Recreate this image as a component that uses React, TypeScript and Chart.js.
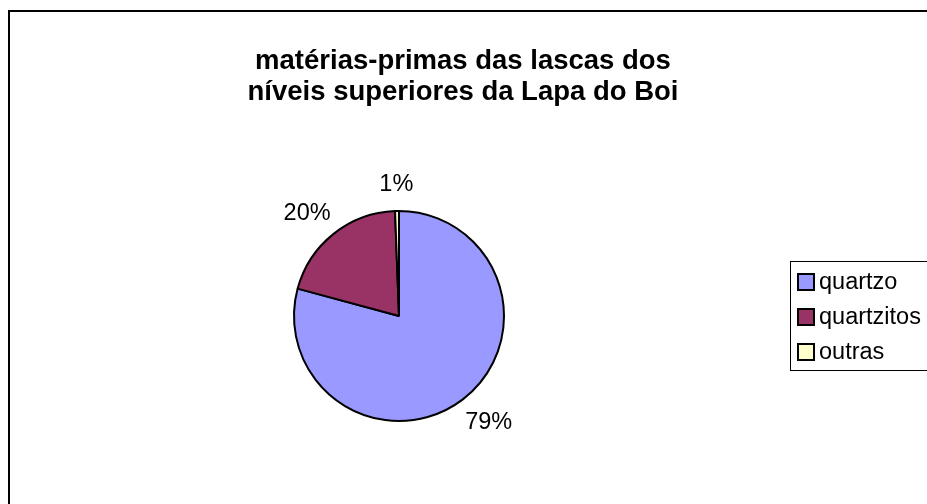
import React, { useEffect, useRef } from "react";
import { Chart, registerables } from "chart.js";

Chart.register(...registerables);

// Raw materials of the flakes (percent of total)
const categories = ["quartzo", "quartzitos", "outras"];
const shares = [79.2, 20.2, 0.6];
const sliceColors = ["#9999FF", "#993366", "#FFFFCC"];
const titleLines = ["matérias-primas das lascas dos", "níveis superiores da Lapa do Boi"];

const FONT = "'Liberation Sans', Arial, sans-serif";

// Outer frame, title and boxed legend drawn onto the canvas
const decorPlugin = {
  id: "decor",
  beforeDraw(chart: any) {
    const ctx = chart.ctx;
    ctx.save();
    ctx.fillStyle = "#ffffff";
    ctx.fillRect(0, 0, chart.width, chart.height);
    ctx.strokeStyle = "#000000";
    ctx.lineWidth = 2;
    ctx.strokeRect(9, 11, chart.width + 40, chart.height + 40);
    ctx.restore();
  },
  afterDraw(chart: any) {
    const ctx = chart.ctx;
    ctx.save();
    // title
    ctx.fillStyle = "#000000";
    ctx.font = `bold 27.5px ${FONT}`;
    ctx.textAlign = "center";
    ctx.textBaseline = "alphabetic";
    titleLines.forEach((line, i) => ctx.fillText(line, 463, 69 + i * 31));

    // legend
    const lx = 790;
    const ly = 261;
    ctx.strokeStyle = "#000000";
    ctx.lineWidth = 1;
    ctx.strokeRect(lx + 0.5, ly + 0.5, 200, 109);
    ctx.font = `23.5px ${FONT}`;
    ctx.textAlign = "left";
    ctx.textBaseline = "middle";
    const labels: string[] = chart.data.labels;
    const colors: string[] = chart.data.datasets[0].backgroundColor;
    labels.forEach((lab, i) => {
      const cy = 282 + i * 35;
      ctx.fillStyle = colors[i];
      ctx.fillRect(798, cy - 8, 16, 16);
      ctx.lineWidth = 2;
      ctx.strokeStyle = "#000000";
      ctx.strokeRect(798, cy - 8, 16, 16);
      ctx.fillStyle = "#000000";
      ctx.fillText(lab, 819, cy + 1);
    });
    ctx.restore();
  },
};

// Percent labels placed just outside each slice
const pctLabelPlugin = {
  id: "pctLabels",
  afterDatasetsDraw(chart: any) {
    const ctx = chart.ctx;
    const meta = chart.getDatasetMeta(0);
    const data: number[] = chart.data.datasets[0].data;
    const total = data.reduce((a, b) => a + b, 0);
    ctx.save();
    ctx.font = `23.5px ${FONT}`;
    ctx.fillStyle = "#000000";
    ctx.textAlign = "center";
    ctx.textBaseline = "middle";
    meta.data.forEach((arc: any, i: number) => {
      const { x, y, startAngle, endAngle, outerRadius } = arc.getProps(
        ["x", "y", "startAngle", "endAngle", "outerRadius"],
        true
      );
      const mid = (startAngle + endAngle) / 2;
      const dx = Math.cos(mid);
      const dy = Math.sin(mid);
      const text = `${Math.round((data[i] / total) * 100)}%`;
      const w = ctx.measureText(text).width;
      const h = 17;
      const r = outerRadius + 19;
      const tx = x + dx * r + (dx * w) / 2;
      const ty = y + dy * r + (dy * h) / 2 + 1;
      ctx.fillText(text, tx, ty);
    });
    ctx.restore();
  },
};

export default function App() {
  const canvasRef = useRef<HTMLCanvasElement | null>(null);

  useEffect(() => {
    const canvas = canvasRef.current;
    if (!canvas) return;
    const chart = new Chart(canvas, {
      type: "pie",
      data: {
        labels: categories,
        datasets: [
          {
            data: shares,
            backgroundColor: sliceColors,
            borderColor: "#000000",
            borderWidth: 2,
          },
        ],
      },
      options: {
        responsive: false,
        animation: false,
        devicePixelRatio: 1,
        radius: 105,
        layout: { padding: { left: 100, right: 229, top: 200, bottom: 72 } },
        plugins: {
          legend: { display: false },
          title: { display: false },
          tooltip: { enabled: false },
        },
      },
      plugins: [decorPlugin, pctLabelPlugin],
    });
    return () => chart.destroy();
  }, []);

  return (
    <div style={{ position: "fixed", left: 0, top: 0, width: 927, height: 504, overflow: "hidden" }}>
      <canvas ref={canvasRef} width={927} height={504} style={{ display: "block" }} />
    </div>
  );
}
